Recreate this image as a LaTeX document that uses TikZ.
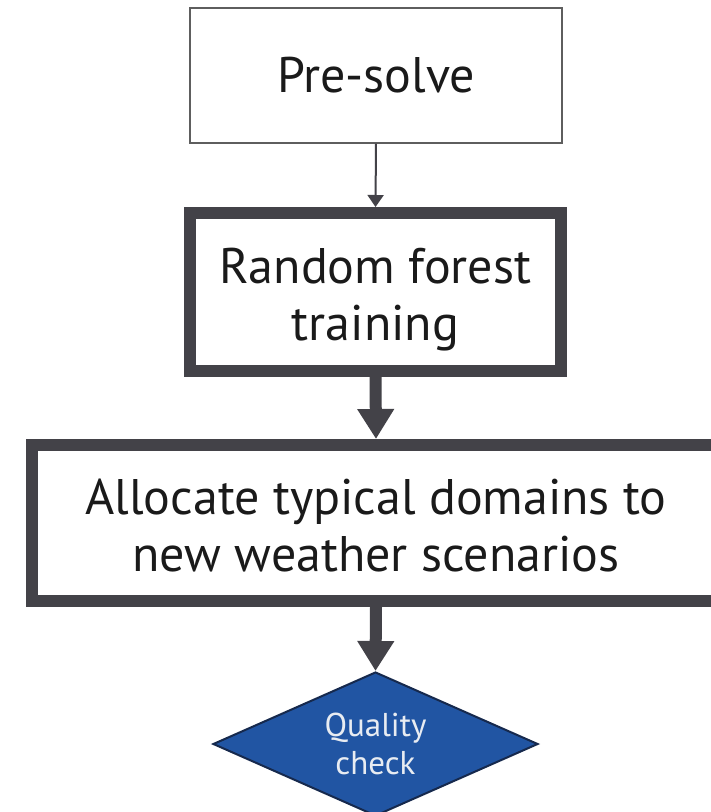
\documentclass[tikz,border=0pt]{standalone}
\usepackage{fontspec}
\setmainfont{PT Sans}
\usetikzlibrary{arrows.meta,shapes.geometric}
\definecolor{strokegray}{HTML}{434248}
\definecolor{thingray}{HTML}{5E5E5E}
\definecolor{textdark}{HTML}{1A1A1A}
\definecolor{decblue}{HTML}{2155A3}
\definecolor{decedge}{HTML}{16294D}
\definecolor{decText}{HTML}{E8ECF2}
\begin{document}
\begin{tikzpicture}[x=1pt,y=-1pt,
  bigtext/.style={font=\fontsize{50}{57}\selectfont, text=textdark, align=center},
  thinbox/.style={draw=thingray, line width=1.2pt, fill=white, bigtext},
  thickbox/.style={draw=strokegray, line width=12pt, fill=white, bigtext},
  decision/.style={diamond, draw=decedge, line width=2pt, fill=decblue, text=decText,
    font=\fontsize{33}{38}\selectfont, align=center, inner sep=0pt, aspect=2.257},
  thinarrow/.style={draw=strokegray, line width=2pt, -{Triangle[width=16pt,length=12pt]}},
  thickarrow/.style={draw=strokegray, line width=12pt, -{Triangle[width=35pt,length=30pt]}}
]
\useasboundingbox (0,0) rectangle (711,812);
\clip (0,0) rectangle (711,812);
\fill[white] (0,0) rectangle (711,812);

% process boxes
\node[thinbox, minimum width=372pt, minimum height=135pt] (pre) at (376,75.5) {Pre-solve};
\node[thickbox, minimum width=371pt, minimum height=158pt] (rf) at (375.5,292) {};
\node[bigtext] (rftext) at ([yshift=-8pt]rf.center) {Random forest\\training};
\node[thickbox, minimum width=688pt, minimum height=156pt] (alloc) at (376,523) {};
\node[bigtext] (alloctext) at ([yshift=-3pt]alloc.center) {Allocate typical domains to\\new weather scenarios};
% decision
\node[decision, minimum width=325pt, minimum height=144pt] (qc) at (375.5,744) {Quality\\check};

% connectors
\draw[thinarrow] (pre.south) -- (rf.north);
\draw[thickarrow] (rf.south) -- (alloc.north);
\draw[thickarrow] (alloc.south) -- (qc.north);
\end{tikzpicture}
\end{document}
